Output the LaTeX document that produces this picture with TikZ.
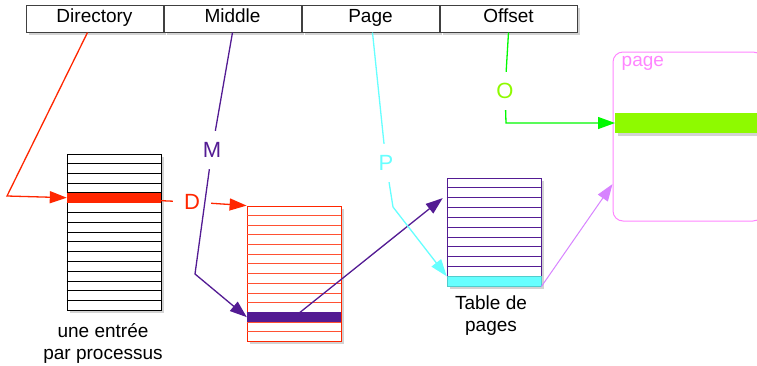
\documentclass[tikz,border=0pt]{standalone}
\usepackage{fontspec}
\setmainfont{Liberation Sans}
\usetikzlibrary{arrows.meta, positioning, calc, shadows}

\definecolor{tred}{HTML}{FF2600}
\definecolor{tgrape}{HTML}{531B93}
\definecolor{tice}{HTML}{66FFFF}
\definecolor{tspring}{HTML}{00F900}
\definecolor{tlime}{HTML}{8EFA00}
\definecolor{tpink}{HTML}{FF85FF}
\definecolor{tlav}{HTML}{D783FF}

\begin{document}
\begin{tikzpicture}[
    x=1pt, y=-1pt,
    every node/.style={font=\fontsize{19}{22}\selectfont},
    shade/.style={drop shadow={shadow xshift=3pt, shadow yshift=-3pt, opacity=0.35}},
    field/.style={rectangle, draw=black!75, line width=1pt, fill=white, minimum width=137pt, minimum height=27pt, inner sep=0pt, text height=13pt, text depth=5pt, shade},
    tab/.style={rectangle, draw=#1, line width=0.8pt, fill=white, minimum width=94pt, inner sep=0pt, shade},
    band/.style={rectangle, fill=#1, minimum width=94pt, inner sep=0pt},
    lab/.style={minimum size=38pt, inner sep=0pt, text=#1, font=\fontsize{22}{24}\selectfont},
    conn/.style={draw=#1, line width=1.3pt},
    arrow/.style={conn=#1, -{Triangle[length=17pt, width=12pt]}}
]
\useasboundingbox (0,0) rectangle (757,365);

% virtual address fields
\node[field] (dir) at (94.5,18.5) {Directory};
\node[field, right=0pt of dir] (mid) {Middle};
\node[field, right=0pt of mid] (pg) {Page};
\node[field, right=0pt of pg] (off) {Offset};

% directory table
\node[tab=black, minimum height=156pt] (ptab) at (114,232) {};
\foreach \i in {1,...,15}
  \draw[black, line width=0.8pt] ($(ptab.north west)!\i/16!(ptab.south west)$) -- ($(ptab.north east)!\i/16!(ptab.south east)$);
\node[band=tred, minimum height=9.75pt] (dband) at ($(ptab.north)!4.5/16!(ptab.south)$) {};
\node[align=center] (ptabtxt) at (103,343) {une entrée\\par processus};

% middle table
\node[tab=tred, minimum height=135pt] (mtab) at (294,273.5) {};
\foreach \i in {1,...,13}
  \draw[tred!80, line width=0.8pt] ($(mtab.north west)!\i/14!(mtab.south west)$) -- ($(mtab.north east)!\i/14!(mtab.south east)$);
\node[band=tgrape, minimum height=9.6pt] (mband) at ($(mtab.north)!11.5/14!(mtab.south)$) {};

% page table
\node[tab=tgrape, minimum height=108pt] (ttab) at (494,232) {};
\foreach \i in {1,...,10}
  \draw[tgrape, line width=0.8pt] ($(ttab.north west)!\i/11!(ttab.south west)$) -- ($(ttab.north east)!\i/11!(ttab.south east)$);
\node[band=tice, draw=tice!80!black, line width=0.6pt, minimum height=9.8pt] (tband) at ($(ttab.north)!10.5/11!(ttab.south)$) {};
\node[align=center] (ttabtxt) at (491,316) {Table de\\pages};

% page
\node[draw=tpink, line width=1pt, rounded corners=10pt, minimum width=150pt, minimum height=169pt, inner sep=0pt] (pagebox) at (688,136.5) {};
\node[text=tpink, anchor=north west, inner sep=0pt] (pagetxt) at ([xshift=9pt, yshift=-5pt]pagebox.north west) {page};
\node[band=tlime, minimum width=142pt, minimum height=20pt, anchor=west, shade] (oband) at (615,123) {};

% labels on the connectors
\node[lab=tred] (lD) at (192,202) {D};
\node[lab=tgrape] (lM) at (212,150) {M};
\node[lab=tice] (lP) at (386,163) {P};
\node[lab=tlime] (lO) at (505,91) {O};
\coordinate (dbend) at (7,196);
\coordinate (mbend) at (195,274);
\coordinate (pbend) at (393,207);
\coordinate (obend) at (506,123);

\draw[arrow=tred] ([xshift=-7pt]dir.south) -- (dbend) -- (dband.west);
\draw[conn=tred] ([yshift=-3pt]dband.east) -- (lD);
\draw[arrow=tred] (lD) -- (mtab.north west);
\draw[conn=tgrape] (mid.south) -- (lM);
\draw[arrow=tgrape] (lM) -- (mbend) -- (mband.west);
\draw[arrow=tgrape, shorten >=5pt] (mband.center) -- ($(ttab.north west)!0.16!(ttab.south west)$);
\draw[conn=tice] ([xshift=2pt]pg.south) -- (lP);
\draw[arrow=tice] (lP) -- (pbend) -- (tband.north west);
\draw[conn=tspring] (off.south) -- (lO);
\draw[arrow=tspring] (lO) -- (obend) -- (oband.west);
\draw[arrow=tlav, line width=1pt] (tband.south east) -- ($(pagebox.north west)!0.78!(pagebox.south west)$);
\end{tikzpicture}
\end{document}
